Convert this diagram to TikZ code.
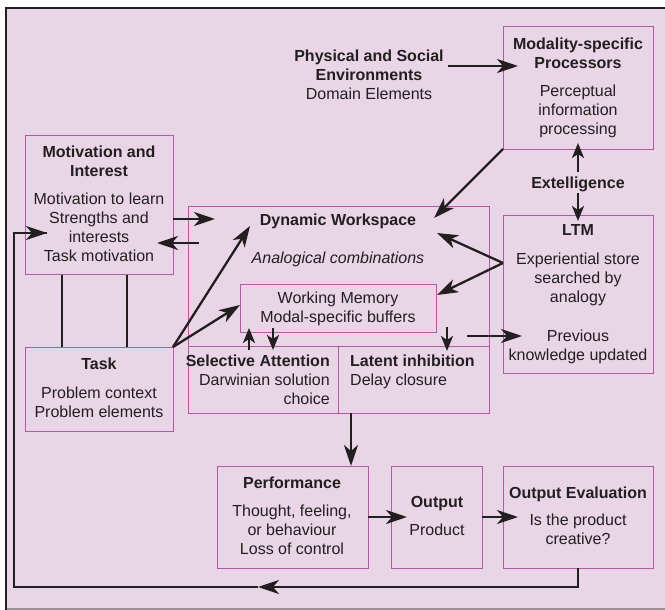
\documentclass[tikz,border=0pt]{standalone}
\usepackage{fontspec}
\setmainfont{Liberation Sans}
\usetikzlibrary{arrows.meta}
\definecolor{bgc}{RGB}{232,213,230}
\definecolor{boxc}{RGB}{180,90,160}
\definecolor{ink}{RGB}{35,31,32}
\definecolor{edgec}{RGB}{150,146,150}
\newcommand\fs{\fontsize{16}{19}\selectfont}
\newcommand\st{\rule{0pt}{12pt}}
\tikzset{
  bx/.style={draw=boxc, line width=0.9pt, inner sep=0pt, anchor=north west, rectangle},
  txt/.style={inner sep=0pt, anchor=north, align=center, font=\fs, text=ink},
  conn/.style={draw=ink, line width=2.3pt},
  arr/.style={conn, -{Stealth[length=21pt, width=14pt, inset=6pt]}},
  sarr/.style={conn, -{Stealth[length=15pt, width=12pt, inset=4pt]}},
}
\begin{document}
\begin{tikzpicture}[x=1pt, y=-1pt]
\useasboundingbox (0,0) rectangle (665,610);
% frame
\fill[bgc] (6,8) rectangle (665,609);
\draw[edgec, line width=1.2pt] (6,609) -- (665,609);
\draw[ink, line width=2.4pt] (6,609.5) -- (6,8) -- (665,8);

% boxes
\node[bx, minimum width=148pt, minimum height=139pt] (mot) at (25,135) {};
\node[bx, minimum width=148pt, minimum height=84pt] (task) at (25,347) {};
\node[bx, minimum width=301pt, minimum height=207pt] (dyn) at (188,206) {};
\node[bx, minimum width=196pt, minimum height=48pt] (wm) at (240,284) {};
\node[bx, minimum width=150pt, minimum height=67pt] (sel) at (188,346) {};
\node[bx, minimum width=151pt, minimum height=67pt] (lat) at (338,346) {};
\node[bx, minimum width=150pt, minimum height=123pt] (mod) at (503,26) {};
\node[bx, minimum width=150pt, minimum height=158pt] (ltm) at (503,215) {};
\node[bx, minimum width=151pt, minimum height=102pt] (perf) at (217,466) {};
\node[bx, minimum width=91pt, minimum height=102pt] (out) at (391,466) {};
\node[bx, minimum width=150pt, minimum height=102pt] (eval) at (503,466) {};

% texts
\node[txt] (physT) at (369,49) {\st\textbf{Physical and Social}\\\textbf{Environments}\\Domain Elements};
\node[txt] (modT) at (578,37) {\st\textbf{Modality-specific}\\\textbf{Processors}\\[9pt]Perceptual\\information\\processing};
\node[txt] (extT) at (578,176) {\st\textbf{Extelligence}};
\node[txt] (ltmT) at (578,223) {\st\textbf{LTM}\\[10pt]Experiential store\\searched by\\analogy\\[20pt]Previous\\knowledge updated};
\node[txt] (motT) at (99,145) {\st\textbf{Motivation and}\\\textbf{Interest}\\[9pt]Motivation to learn\\Strengths and\\interests\\Task motivation};
\node[txt] (dynT) at (338,213) {\st\textbf{Dynamic Workspace}};
\node[txt] (anaT) at (338,251) {\st\textit{Analogical combinations}};
\node[txt] (wmT) at (338,291) {\st Working Memory\\Modal-specific buffers};
\node[txt, anchor=north east, align=right] (selT) at (330,354) {\st\textbf{Selective Attention}\\Darwinian solution\\choice};
\node[txt, anchor=north west, align=left] (latT) at (350,354) {\st\textbf{Latent inhibition}\\Delay closure};
\node[txt] (taskT) at (99,357) {\st\textbf{Task}\\[10pt]Problem context\\Problem elements};
\node[txt] (perfT) at (292,476) {\st\textbf{Performance}\\[9pt]Thought, feeling,\\or behaviour\\Loss of control};
\node[txt] (outT) at (437,495) {\st\textbf{Output}\\[9pt]Product};
\node[txt] (evalT) at (578,486) {\st\textbf{Output Evaluation}\\[8pt]Is the product\\creative?};

% connector coordinates
\coordinate (physE) at (448,66);
\coordinate (modIn) at (518,66);
\coordinate (extUp) at (578,172);
\coordinate (modBot) at (578,143);
\coordinate (extDn) at (578,193);
\coordinate (ltmTop) at (578,221);
\coordinate (motOut) at (173,219);
\coordinate (dynIn1) at (215,219);
\coordinate (dynOut1) at (199,243);
\coordinate (motIn1) at (157,243);
\coordinate (taskC) at (173,347);
\coordinate (dynIn2) at (250,226);
\coordinate (wmIn1) at (240,305);
\coordinate (modC) at (503,149);
\coordinate (dynIn3) at (434,218);
\coordinate (ltmL) at (503,263);
\coordinate (dynIn4) at (437,233);
\coordinate (wmIn2) at (437,295);
\coordinate (ltmOutS) at (467,336);
\coordinate (ltmIn) at (522,336);
\coordinate (selUpS) at (249,350);
\coordinate (selUpE) at (249,328);
\coordinate (selDnS) at (273,328);
\coordinate (selDnE) at (273,350);
\coordinate (latDnS) at (447,327);
\coordinate (latDnE) at (447,351);
\coordinate (latOut) at (351,413);
\coordinate (perfIn) at (351,466);
\coordinate (perfOut) at (368,517);
\coordinate (outIn) at (407,517);
\coordinate (outOut) at (482,517);
\coordinate (evalIn) at (518,517);
\coordinate (evalOut) at (578,568);
\coordinate (fbA) at (578,587);
\coordinate (fbMid) at (258,587);
\coordinate (fbB) at (14,587);
\coordinate (fbC) at (14,233);
\coordinate (motIn2) at (47,233);

% connectors
\draw[arr] (physE) -- (modIn);
\draw[sarr] (extUp) -- (modBot);
\draw[sarr] (extDn) -- (ltmTop);
\draw[arr] (motOut) -- (dynIn1);
\draw[arr] (dynOut1) -- (motIn1);
\draw[conn] (mot.south -| 62,0) -- (task.north -| 62,0);
\draw[conn] (mot.south -| 127,0) -- (task.north -| 127,0);
\draw[arr] (taskC) -- (dynIn2);
\draw[arr] (taskC) -- (wmIn1);
\draw[arr] (modC) -- (dynIn3);
\draw[arr] (ltmL) -- (dynIn4);
\draw[arr] (ltmL) -- (wmIn2);
\draw[arr] (ltmOutS) -- (ltmIn);
\draw[sarr] (selUpS) -- (selUpE);
\draw[sarr] (selDnS) -- (selDnE);
\draw[sarr] (latDnS) -- (latDnE);
\draw[arr] (latOut) -- (perfIn);
\draw[arr] (perfOut) -- (outIn);
\draw[arr] (outOut) -- (evalIn);
\draw[arr] (evalOut) -- (fbA) -- (fbMid);
\draw[conn, line join=miter] (fbMid) -- (fbB) -- (fbC) -- (motIn2);
\draw[arr] (fbC) -- (motIn2);
\end{tikzpicture}
\end{document}
